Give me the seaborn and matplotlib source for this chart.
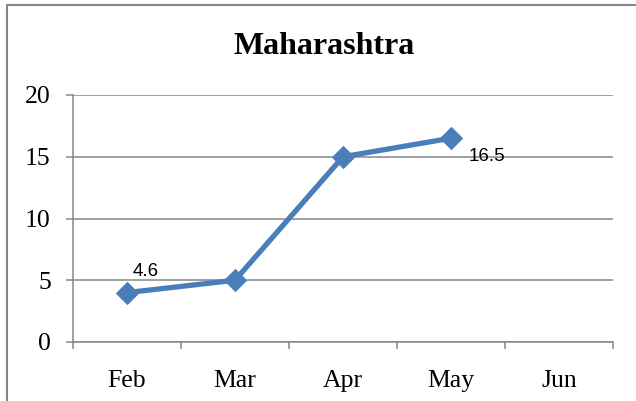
import numpy as np
import matplotlib
matplotlib.use("Agg")
import matplotlib.pyplot as plt
import seaborn as sns
from matplotlib.lines import Line2D

# Данные графика
months = ["Feb", "Mar", "Apr", "May", "Jun"]
values = [4, 5, 15, 16.5]          # для Jun значения нет
point_labels = ["4.6", None, None, "16.5"]
y_ticks = [0, 5, 10, 15, 20]

LINE_COLOR = "#4A7EBB"
GRID_COLOR = "#868686"

sns.set_style("white")
plt.rcParams['font.family'] = ['Liberation Serif', 'DejaVu Serif']
plt.rcParams['text.color'] = 'black'
plt.rcParams['xtick.labelcolor'] = 'black'
plt.rcParams['ytick.labelcolor'] = 'black'

fig = plt.figure(figsize=(6.36, 4.01), dpi=100)
ax = fig.add_axes([73 / 636, 1 - 342 / 401, 540 / 636, 247 / 401])

positions = np.arange(len(values))
sns.lineplot(x=positions, y=values, ax=ax, color=LINE_COLOR, linewidth=3.8,
             marker="D", markersize=11, markeredgecolor=LINE_COLOR,
             markerfacecolor=LINE_COLOR, sort=False, estimator=None)

# Подписи точек
offsets = {0: (6, 21), 3: (18, -18)}
for i, lab in enumerate(point_labels):
    if lab is None:
        continue
    ax.annotate(lab, (positions[i], values[i]), xytext=offsets[i],
                textcoords="offset pixels", ha="left", va="center",
                fontsize=13.5, color="black",
                family=["Liberation Sans", "DejaVu Sans"])

# Оси
ax.set_xlim(-0.5, len(months) - 0.5)
ax.set_ylim(0, 20)
ax.set_yticks(y_ticks)
ax.set_yticklabels([str(t) for t in y_ticks])
ax.set_xticks(np.arange(len(months)))
ax.set_xticklabels(months)
ax.set_xticks(np.arange(len(months) + 1) - 0.5, minor=True)
ax.tick_params(axis="x", which="major", length=0, pad=20, labelsize=18.5)
ax.tick_params(axis="x", which="minor", length=5, width=1.1,
               color=GRID_COLOR, direction="out")
ax.tick_params(axis="y", length=5, width=1.1, color=GRID_COLOR,
               direction="out", pad=11, labelsize=18.5)
ax.tick_params(left=True, bottom=True, which="both")

ax.yaxis.grid(True, color=GRID_COLOR, linewidth=1.1)
ax.xaxis.grid(False)
ax.set_axisbelow(True)
for side in ["top", "right"]:
    ax.spines[side].set_visible(False)
for side in ["left", "bottom"]:
    ax.spines[side].set_color(GRID_COLOR)
    ax.spines[side].set_linewidth(1.1)
ax.set_xlabel("")
ax.set_ylabel("")

# Заголовок
fig.text(324 / 636, 1 - 46 / 401, "Maharashtra", ha="center", va="center",
         fontsize=23, fontweight="bold", color="black")

# Рамка области диаграммы
fig.add_artist(Line2D([6.5 / 636, 1.0], [1 - 4.5 / 401] * 2,
                      transform=fig.transFigure, color=GRID_COLOR, linewidth=1.5))
fig.add_artist(Line2D([6.5 / 636] * 2, [0.0, 1 - 4.5 / 401],
                      transform=fig.transFigure, color=GRID_COLOR, linewidth=1.5))

fig.savefig("out.png", dpi=100)
